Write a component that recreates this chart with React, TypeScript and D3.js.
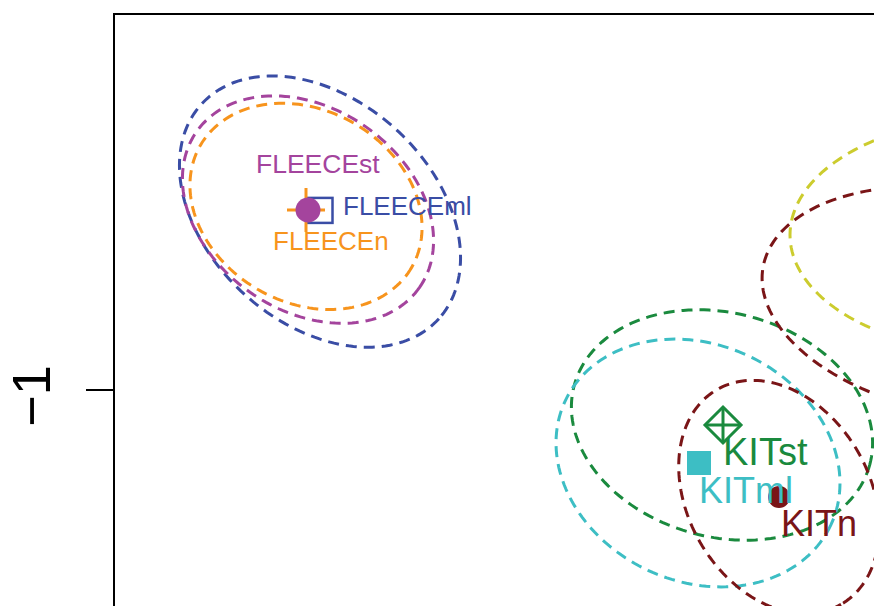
import React from "react";
import * as d3 from "d3";

// ---- data (score space units) ----
const pointNames = ["FLEECEml", "FLEECEn", "FLEECEst", "KITst", "KITml", "KITn"];
const pointX = [-1.685, -1.72, -1.715, -0.6775, -0.7375, -0.5375];
const pointY = [-0.551, -0.55, -0.55, -1.0875, -1.1825, -1.2675];
const pointShapes = ["openSquare", "plus", "circle", "diamondCross", "square", "circle"];

const ellipseNames = ["FLEECEml", "FLEECEst", "FLEECEn", "KITst", "KITml", "KITn", "other1", "other2"];
const ellipseCX = [-1.685, -1.715, -1.72, -0.68, -0.74, -0.5375, -0.085, 0.015];
const ellipseCY = [-0.554, -0.549, -0.541, -1.0875, -1.1825, -1.2675, -0.78, -0.6125];
const ellipseRX = [0.4, 0.34, 0.305, 0.3825, 0.3665, 0.31, 0.5, 0.525];
const ellipseRY = [0.28, 0.2525, 0.24, 0.28, 0.296, 0.2275, 0.28, 0.295];
const ellipseRot = [42, 35, 30, 15, 25, 60, 10, 0];

const yTickValues = [-1];
const yTickLabels = ["\u22121"];

// ---- styling ----
const colors: Record<string, string> = {
  FLEECEst: "#A4449D",
  FLEECEml: "#3A4DA5",
  FLEECEn: "#F7941D",
  KITst: "#1A8A3E",
  KITml: "#3DBEC4",
  KITn: "#7A1517",
  other1: "#7A1517",
  other2: "#CCCC2E",
};
const labelOffsets: Record<string, [number, number, number]> = {
  FLEECEst: [-52, -37, 26.5],
  FLEECEml: [23, 4.5, 26],
  FLEECEn: [-33, 40, 26],
  KITst: [0, 40, 38],
  KITml: [0, 40, 36],
  KITn: [2, 39, 36],
};

const W = 874;
const H = 606;
const left = 114;
const top = 14;
const xMin = -2.2;
const yMax = -0.06;
const ppu = 400;

export default function App() {
  const x = d3.scaleLinear().domain([xMin, xMin + (W - left) / ppu]).range([left, W]);
  const y = d3.scaleLinear().domain([yMax, yMax - (H - top) / ppu]).range([top, H]);

  const ellipsePath = (i: number) => {
    const theta = (ellipseRot[i] * Math.PI) / 180;
    const pts: [number, number][] = d3.range(0, 360, 2).map((deg) => {
      const t = (deg * Math.PI) / 180;
      const ex = ellipseRX[i] * Math.cos(t);
      const ey = ellipseRY[i] * Math.sin(t);
      const rx = ex * Math.cos(theta) - ey * Math.sin(theta);
      const ry = ex * Math.sin(theta) + ey * Math.cos(theta);
      return [x(ellipseCX[i] + rx), y(ellipseCY[i] - ry)];
    });
    return d3.line().curve(d3.curveLinearClosed)(pts) || "";
  };

  const font = "Arial, 'Liberation Sans', sans-serif";

  const marker = (i: number) => {
    const cx = x(pointX[i]);
    const cy = y(pointY[i]);
    const c = colors[pointNames[i]];
    switch (pointShapes[i]) {
      case "circle":
        return <circle cx={cx} cy={cy} r={pointNames[i] === "KITn" ? 11 : 12.5} fill={c} />;
      case "openSquare":
        return <rect x={cx - 12.5} y={cy - 12.5} width={25} height={25} fill="none" stroke={c} strokeWidth={2.5} />;
      case "square":
        return <rect x={cx - 12} y={cy - 12} width={24} height={24} fill={c} />;
      case "plus":
        return (
          <g stroke={c} strokeWidth={3}>
            <line x1={cx - 19} x2={cx + 19} y1={cy} y2={cy} />
            <line x1={cx} x2={cx} y1={cy - 22} y2={cy + 22} />
          </g>
        );
      case "diamondCross":
        return (
          <g stroke={c} strokeWidth={3} fill="none">
            <path d={`M${cx},${cy - 18}L${cx + 18},${cy}L${cx},${cy + 18}L${cx - 18},${cy}Z`} />
            <line x1={cx - 18} x2={cx + 18} y1={cy} y2={cy} />
            <line x1={cx} x2={cx} y1={cy - 18} y2={cy + 18} />
          </g>
        );
      default:
        return null;
    }
  };

  return (
    <svg
      width={W}
      height={H}
      style={{ position: "absolute", left: 0, top: 0, background: "#fff" }}
    >
      <rect x={0} y={0} width={W} height={H} fill="#fff" />
      <g fill="none" strokeWidth={3} strokeDasharray="11 7">
        {ellipseNames.map((n, i) => (
          <path key={n} d={ellipsePath(i)} stroke={colors[n]} />
        ))}
      </g>
      {pointNames.map((n, i) => (
        <g key={n}>{marker(i)}</g>
      ))}
      {pointNames.map((n, i) => {
        const [dx, dy, fs] = labelOffsets[n];
        return (
          <text
            key={"l" + n}
            x={x(pointX[i]) + dx}
            y={y(pointY[i]) + dy}
            fill={colors[n]}
            fontSize={fs}
            fontFamily={font}
          >
            {n}
          </text>
        );
      })}
      <rect x={left} y={top} width={W + 100} height={H + 100} fill="none" stroke="#000" strokeWidth={2} />
      {yTickValues.map((v, i) => (
        <g key={v}>
          <line x1={left - 28} x2={left} y1={y(v)} y2={y(v)} stroke="#000" strokeWidth={2} />
          <text
            transform={`translate(50,${y(v) + 6}) rotate(-90)`}
            textAnchor="middle"
            fontSize={54}
            fontFamily={font}
            fill="#000"
          >
            {yTickLabels[i]}
          </text>
        </g>
      ))}
    </svg>
  );
}
